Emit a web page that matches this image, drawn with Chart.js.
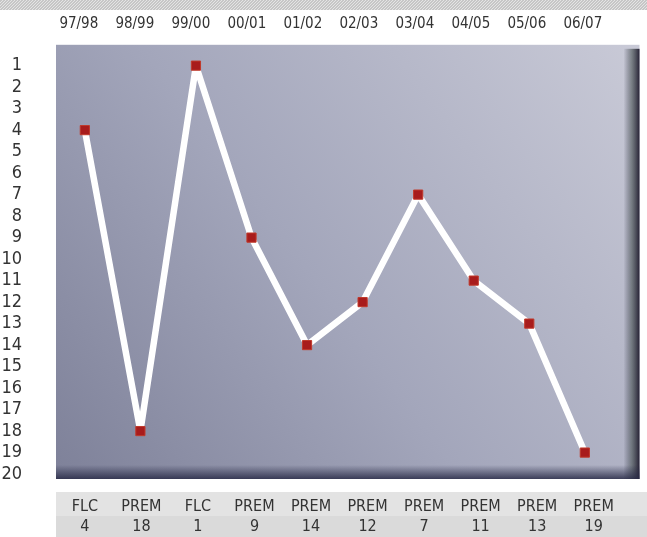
<!DOCTYPE html>
<html>
<head>
<meta charset="utf-8">
<script src="https://cdn.jsdelivr.net/npm/chart.js@4/dist/chart.umd.min.js"></script>
<style>
  html, body { margin: 0; padding: 0; background: #fff; }
  #wrap { width: 647px; height: 537px; }
</style>
</head>
<body>
<div id="wrap"><canvas id="grafico" width="647" height="537"></canvas></div>
<script>
// Datos de la gráfica
const temporadas = ['97/98', '98/99', '99/00', '00/01', '01/02', '02/03', '03/04', '04/05', '05/06', '06/07'];
const ligas = ['FLC', 'PREM', 'FLC', 'PREM', 'PREM', 'PREM', 'PREM', 'PREM', 'PREM', 'PREM'];
const posiciones = [4, 18, 1, 9, 14, 12, 7, 11, 13, 19];
const ticksY = [1, 2, 3, 4, 5, 6, 7, 8, 9, 10, 11, 12, 13, 14, 15, 16, 17, 18, 19, 20];

const FUENTE = "'Liberation Sans Narrow', 'DejaVu Sans Condensed', Arial, sans-serif";
const TEXTO = '#333333';

// Fondo: franja superior, zona del gráfico con sombra y tabla inferior
const fondo = {
    id: 'fondo',
    beforeDraw(chart) {
        const ctx = chart.ctx;
        const a = chart.chartArea;
        ctx.save();
        ctx.fillStyle = '#fff';
        ctx.fillRect(0, 0, chart.width, chart.height);

        // franja gris arriba
        ctx.fillStyle = '#c6c6c6';
        ctx.fillRect(0, 0, chart.width, 10);
        ctx.strokeStyle = '#e4e4e4';
        ctx.lineWidth = 1;
        for (let x = -10; x < chart.width; x += 3) {
            ctx.beginPath();
            ctx.moveTo(x, 10);
            ctx.lineTo(x + 10, 0);
            ctx.stroke();
        }

        // tabla inferior
        ctx.fillStyle = '#e3e3e3';
        ctx.fillRect(a.left, a.bottom + 13, chart.width - a.left, 24);
        ctx.fillStyle = '#dadada';
        ctx.fillRect(a.left, a.bottom + 37, chart.width - a.left, chart.height - a.bottom - 37);

        // zona del gráfico
        const g = ctx.createLinearGradient(a.left, a.bottom, a.right, a.top);
        g.addColorStop(0, '#7e8199');
        g.addColorStop(0.45, '#a3a6bb');
        g.addColorStop(1, '#c9cad7');
        ctx.fillStyle = g;
        ctx.fillRect(a.left, a.top, a.right - a.left, a.bottom - a.top);

        // sombra derecha
        const gr = ctx.createLinearGradient(a.right - 16, 0, a.right, 0);
        gr.addColorStop(0, 'rgba(40,42,60,0)');
        gr.addColorStop(0.5, 'rgba(60,70,70,0.55)');
        gr.addColorStop(1, 'rgba(30,25,45,0.95)');
        ctx.fillStyle = gr;
        ctx.fillRect(a.right - 16, a.top + 4, 16, a.bottom - a.top - 4);

        // sombra inferior
        const gb = ctx.createLinearGradient(0, a.bottom - 14, 0, a.bottom);
        gb.addColorStop(0, 'rgba(40,42,70,0)');
        gb.addColorStop(1, 'rgba(40,42,70,0.85)');
        ctx.fillStyle = gb;
        ctx.fillRect(a.left, a.bottom - 14, a.right - a.left, 14);
        ctx.restore();
    }
};

new Chart(document.getElementById('grafico'), {
    type: 'line',
    data: {
        datasets: [{
            data: posiciones.map((p, i) => ({ x: i, y: p })),
            borderColor: '#ffffff',
            borderWidth: 6.5,
            borderJoinStyle: 'round',
            borderCapStyle: 'round',
            pointStyle: 'rect',
            pointRadius: 6.5,
            pointBackgroundColor: '#a81c1c',
            pointBorderColor: '#c0392b',
            pointBorderWidth: 1,
            tension: 0
        }]
    },
    options: {
        responsive: false,
        animation: false,
        layout: { padding: { left: 0, right: 4, top: 0, bottom: 0 } },
        plugins: { legend: { display: false }, tooltip: { enabled: false } },
        scales: {
            x: {
                type: 'linear', display: false, min: -0.519, max: 9.984
            },
            xTop: {
                type: 'linear', position: 'top', min: -0.408, max: 10.012,
                grid: { display: false, drawTicks: false }, border: { display: false },
                afterBuildTicks: s => { s.ticks = temporadas.map((t, i) => ({ value: i })); },
                afterFit: s => { s.height = 43; },
                ticks: {
                    padding: 12, maxRotation: 0, autoSkip: false,
                    color: TEXTO, font: { family: FUENTE, size: 15 },
                    callback: (v) => temporadas[v]
                }
            },
            xBottom: {
                type: 'linear', position: 'bottom', min: -0.51, max: 9.81,
                grid: { display: false, drawTicks: false }, border: { display: false },
                afterBuildTicks: s => { s.ticks = ligas.map((t, i) => ({ value: i })); },
                afterFit: s => { s.height = 58; },
                ticks: {
                    padding: 18, maxRotation: 0, autoSkip: false,
                    color: TEXTO, font: { family: FUENTE, size: 16, lineHeight: 1.25 },
                    callback: (v) => [ligas[v], String(posiciones[v])]
                }
            },
            y: {
                reverse: true, min: 0.03, max: 20.23,
                grid: { display: false, drawTicks: false }, border: { display: false },
                afterBuildTicks: s => { s.ticks = ticksY.map(v => ({ value: v })); },
                afterFit: s => { s.width = 56; },
                ticks: {
                    padding: 34, autoSkip: false,
                    color: TEXTO, font: { family: FUENTE, size: 18 }
                }
            }
        }
    },
    plugins: [fondo]
});
</script>
</body>
</html>
